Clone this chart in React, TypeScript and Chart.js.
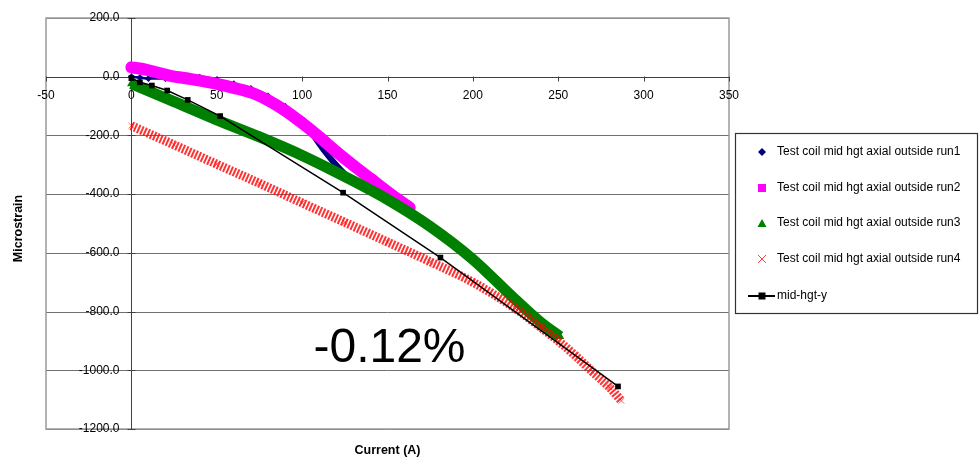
import React, { useEffect, useRef } from "react";
import { Chart, registerables } from "chart.js";

Chart.register(...registerables);

const FONT = '"Liberation Sans", Arial, Helvetica, sans-serif';

// ---- axis ticks ----
const xTickValues = [-50, 0, 50, 100, 150, 200, 250, 300, 350];
const xTickLabels = ["-50", "0", "50", "100", "150", "200", "250", "300", "350"];
const yTickValues = [200, 0, -200, -400, -600, -800, -1000, -1200];
const yTickLabels = ["200.0", "0.0", "-200.0", "-400.0", "-600.0", "-800.0", "-1000.0", "-1200.0"];

// ---- series names ----
const seriesNames = [
  "Test coil mid hgt axial outside run1",
  "Test coil mid hgt axial outside run2",
  "Test coil mid hgt axial outside run3",
  "Test coil mid hgt axial outside run4",
  "mid-hgt-y",
];

// ---- data (Current A, Microstrain) ----
const run1X = [0, 5, 10, 20, 30, 40, 50, 60, 70, 80, 90, 100, 107, 113, 118, 123, 128];
const run1Y = [0, -3, -6, -6, -4, -2, -10, -24, -40, -66, -101, -145, -203, -252, -288, -320, -348];

const run2X = [0, 5, 10, 23, 35, 50, 60, 72, 80, 90, 100, 110, 120, 130, 140, 150, 163];
const run2Y = [32, 28, 22, 3, -8, -24, -38, -58, -80, -115, -158, -205, -255, -302, -347, -392, -446];

const run3X = [0, 25, 50, 75, 100, 125, 150, 175, 200, 225, 240, 251];
const run3Y = [-24, -85, -147, -205, -268, -340, -418, -510, -622, -760, -838, -885];

const run4X = [0, 25, 50, 75, 100, 125, 150, 175, 200, 225, 240, 250, 260, 270, 280, 287];
const run4Y = [-167, -232, -298, -363, -430, -496, -563, -630, -700, -790, -855, -900, -950, -1005, -1058, -1104];

const midX = [0, 5, 12, 21, 33, 52, 124, 181, 285];
const midY = [-5, -19, -30, -47, -79, -134, -395, -616, -1055];

const annotationText = "-0.12%";
const xTitle = "Current (A)";
const yTitle = "Microstrain";

const pts = (xs: number[], ys: number[]) => xs.map((x, i) => ({ x, y: ys[i] }));

const framePlugin = {
  id: "excelFrame",
  beforeDatasetsDraw(chart: any) {
    const { ctx, chartArea: a, scales } = chart;
    const xs = scales.x;
    const ys = scales.y;
    ctx.save();
    // horizontal gridlines
    ctx.strokeStyle = "#707070";
    ctx.lineWidth = 1;
    for (const v of yTickValues) {
      const py = Math.round(ys.getPixelForValue(v)) + 0.5;
      ctx.beginPath();
      ctx.moveTo(a.left, py);
      ctx.lineTo(a.right, py);
      ctx.stroke();
    }
    // plot border
    ctx.strokeStyle = "#9a9a9a";
    ctx.lineWidth = 1.5;
    ctx.strokeRect(a.left, a.top, a.right - a.left, a.bottom - a.top);

    const x0 = Math.round(xs.getPixelForValue(0)) + 0.5;
    const y0 = Math.round(ys.getPixelForValue(0)) + 0.5;
    ctx.strokeStyle = "#404040";
    ctx.lineWidth = 1;
    // x axis at y = 0
    ctx.beginPath();
    ctx.moveTo(a.left, y0);
    ctx.lineTo(a.right, y0);
    ctx.stroke();
    for (const v of xTickValues) {
      const px = Math.round(xs.getPixelForValue(v)) + 0.5;
      ctx.beginPath();
      ctx.moveTo(px, y0 - 1);
      ctx.lineTo(px, y0 + 4);
      ctx.stroke();
    }
    // y axis at x = 0
    ctx.beginPath();
    ctx.moveTo(x0, a.top);
    ctx.lineTo(x0, a.bottom);
    ctx.stroke();
    for (const v of yTickValues) {
      const py = Math.round(ys.getPixelForValue(v)) + 0.5;
      ctx.beginPath();
      ctx.moveTo(x0 - 4, py);
      ctx.lineTo(x0 + 4, py);
      ctx.stroke();
    }

    // tick labels
    ctx.fillStyle = "#000";
    ctx.font = `12px ${FONT}`;
    ctx.textAlign = "center";
    ctx.textBaseline = "middle";
    xTickValues.forEach((v, i) => {
      ctx.fillText(xTickLabels[i], xs.getPixelForValue(v), y0 + 18);
    });
    ctx.textAlign = "right";
    yTickValues.forEach((v, i) => {
      ctx.fillText(yTickLabels[i], x0 - 12, ys.getPixelForValue(v));
    });

    // axis titles
    ctx.font = `bold 12.5px ${FONT}`;
    ctx.textAlign = "center";
    ctx.fillText(xTitle, (a.left + a.right) / 2, 451);
    ctx.save();
    ctx.translate(19, (a.top + a.bottom) / 2 + 5);
    ctx.rotate(-Math.PI / 2);
    ctx.fillText(yTitle, 0, 0);
    ctx.restore();
    ctx.restore();
  },
  afterDraw(chart: any) {
    const { ctx, chartArea: a } = chart;
    ctx.save();
    // big annotation
    ctx.fillStyle = "#000";
    ctx.font = `48px ${FONT}`;
    ctx.textAlign = "center";
    ctx.textBaseline = "alphabetic";
    ctx.fillText(annotationText, (a.left + a.right) / 2 + 2, 362);

    // legend box
    const bx = 735.5, by = 133.5, bw = 242, bh = 180;
    ctx.fillStyle = "#fff";
    ctx.fillRect(bx, by, bw, bh);
    ctx.strokeStyle = "#333";
    ctx.lineWidth = 1.2;
    ctx.strokeRect(bx, by, bw, bh);

    const rowY = [152, 188, 223, 259, 296];
    const mx = 762;
    ctx.font = `12px ${FONT}`;
    ctx.textAlign = "left";
    ctx.textBaseline = "middle";
    seriesNames.forEach((name, i) => {
      const yy = rowY[i];
      ctx.fillStyle = "#000";
      ctx.fillText(name, 777, yy);
      if (i === 0) {
        ctx.fillStyle = "#000080";
        ctx.beginPath();
        ctx.moveTo(mx, yy - 4);
        ctx.lineTo(mx + 4, yy);
        ctx.lineTo(mx, yy + 4);
        ctx.lineTo(mx - 4, yy);
        ctx.closePath();
        ctx.fill();
      } else if (i === 1) {
        ctx.fillStyle = "#ff00ff";
        ctx.fillRect(mx - 4, yy - 4, 8, 8);
      } else if (i === 2) {
        ctx.fillStyle = "#008000";
        ctx.beginPath();
        ctx.moveTo(mx, yy - 4);
        ctx.lineTo(mx + 4.5, yy + 4);
        ctx.lineTo(mx - 4.5, yy + 4);
        ctx.closePath();
        ctx.fill();
      } else if (i === 3) {
        ctx.strokeStyle = "#ff4040";
        ctx.lineWidth = 1;
        ctx.beginPath();
        ctx.moveTo(mx - 4, yy - 4);
        ctx.lineTo(mx + 4, yy + 4);
        ctx.moveTo(mx + 4, yy - 4);
        ctx.lineTo(mx - 4, yy + 4);
        ctx.stroke();
      } else {
        ctx.strokeStyle = "#000";
        ctx.lineWidth = 2;
        ctx.beginPath();
        ctx.moveTo(748, yy);
        ctx.lineTo(775, yy);
        ctx.stroke();
        ctx.fillStyle = "#000";
        ctx.fillRect(mx - 3.5, yy - 3.5, 7, 7);
      }
    });
    ctx.restore();
  },
};

export default function App() {
  const canvasRef = useRef<HTMLCanvasElement | null>(null);

  useEffect(() => {
    const canvas = canvasRef.current;
    if (!canvas) return;
    const chart = new Chart(canvas, {
      type: "scatter",
      data: {
        datasets: [
          {
            label: seriesNames[4],
            data: pts(midX, midY),
            showLine: true,
            borderColor: "#000",
            backgroundColor: "#000",
            borderWidth: 1.5,
            pointStyle: "rect",
            pointRadius: 4,
            pointBorderWidth: 0,
            tension: 0,
            order: 1,
          },
          {
            label: seriesNames[3],
            data: pts(run4X, run4Y),
            showLine: true,
            borderColor: "rgba(255,0,0,0.8)",
            borderWidth: 9,
            borderDash: [2, 1.5],
            borderCapStyle: "butt",
            pointStyle: "crossRot",
            pointRadius: 4,
            pointBorderColor: "rgba(255,0,0,0.6)",
            pointBorderWidth: 1,
            cubicInterpolationMode: "monotone",
            order: 2,
          },
          {
            label: seriesNames[2],
            data: pts(run3X, run3Y),
            showLine: true,
            borderColor: "#008000",
            backgroundColor: "#008000",
            borderWidth: 11,
            pointStyle: "triangle",
            pointRadius: 5,
            pointBorderWidth: 0,
            cubicInterpolationMode: "monotone",
            order: 3,
          },
          {
            label: seriesNames[1],
            data: pts(run2X, run2Y),
            showLine: true,
            borderColor: "#ff00ff",
            backgroundColor: "#ff00ff",
            borderWidth: 12,
            borderCapStyle: "round",
            pointStyle: "rect",
            pointRadius: 6,
            pointBorderWidth: 0,
            cubicInterpolationMode: "monotone",
            order: 4,
          },
          {
            label: seriesNames[0],
            data: pts(run1X, run1Y),
            showLine: true,
            borderColor: "#000080",
            backgroundColor: "#000080",
            borderWidth: 2.5,
            segment: {
              borderWidth: (c: any) => (c.p0.parsed.x >= 100 ? 6 : 2.5),
            },
            pointStyle: "rectRot",
            pointRadius: 3.5,
            pointBorderWidth: 0,
            cubicInterpolationMode: "monotone",
            order: 5,
          },
        ],
      },
      options: {
        animation: false,
        responsive: false,
        events: [],
        layout: { padding: { left: 46, top: 18, right: 251, bottom: 47 } },
        plugins: {
          legend: { display: false },
          tooltip: { enabled: false },
          title: { display: false },
        },
        scales: {
          x: { type: "linear", min: -50, max: 350, display: false },
          y: { type: "linear", min: -1200, max: 200, display: false },
        },
      },
      plugins: [framePlugin],
    });
    return () => chart.destroy();
  }, []);

  return (
    <div style={{ position: "fixed", left: 0, top: 0, width: 980, height: 476, background: "#fff" }}>
      <canvas ref={canvasRef} width={980} height={476} />
    </div>
  );
}
